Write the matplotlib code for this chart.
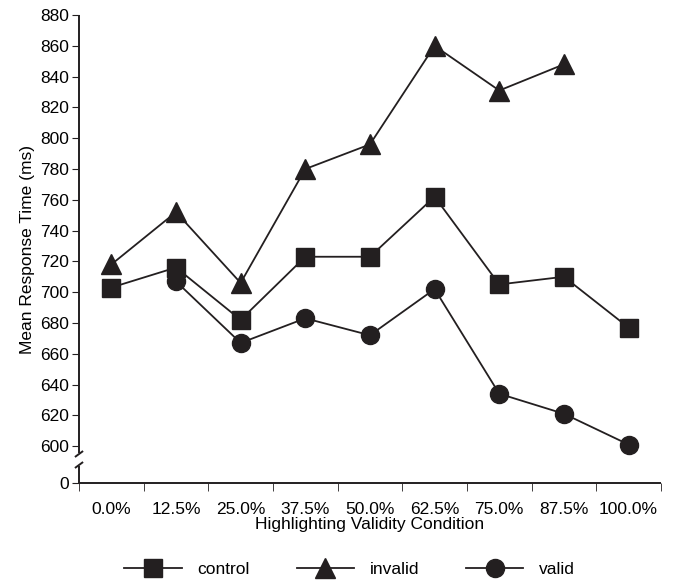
import matplotlib
matplotlib.use("Agg")
import matplotlib.pyplot as plt
import numpy as np

conditions = ["0.0%", "12.5%", "25.0%", "37.5%", "50.0%", "62.5%", "75.0%", "87.5%", "100.0%"]
control = [703, 716, 682, 723, 723, 762, 705, 710, 677]
invalid = [718, 752, 706, 780, 796, 860, 831, 848, np.nan]
valid = [np.nan, 707, 667, 683, 672, 702, 634, 621, 601]

ink = "#231f20"

# broken axis: everything below 600 squeezed into a short stub
def fwd(y):
    y = np.asarray(y, dtype=float)
    return np.where(y >= 600, y, 576 + y * 0.04)

def inv(v):
    v = np.asarray(v, dtype=float)
    return np.where(v >= 600, v, (v - 576) / 0.04)

plt.rcParams["font.family"] = ["Liberation Sans", "DejaVu Sans"]
plt.rcParams["font.size"] = 12.5

fig = plt.figure(figsize=(6.73, 5.8), dpi=100)
ax = fig.add_axes([0.1174, 0.1672, 0.8646, 0.8068])
ax.set_yscale("function", functions=(fwd, inv))

x = np.arange(len(conditions))
ax.plot(x, control, color=ink, lw=1.3, marker="s", ms=13, label="control")
ax.plot(x, invalid, color=ink, lw=1.3, marker="^", ms=14, label="invalid")
ax.plot(x, valid, color=ink, lw=1.3, marker="o", ms=13, label="valid")

ax.set_xlim(-0.5, len(conditions) - 0.5)
ax.set_ylim(0, 880)
ax.set_yticks([0] + list(range(600, 881, 20)))
ax.set_xticks(x)
ax.set_xticklabels(conditions)
ax.set_xticks(np.arange(len(conditions) + 1) - 0.5, minor=True)
ax.tick_params(axis="x", which="major", length=0, pad=13.5)
ax.tick_params(axis="x", which="minor", length=6, direction="out", color=ink)
ax.tick_params(axis="y", length=5, direction="out", color=ink, pad=2)
for s in ax.spines.values():
    s.set_visible(False)

# axis lines drawn by hand, with a gap for the break in the y axis
lk = dict(transform=ax.transAxes, color=ink, lw=1.4, clip_on=False,
          solid_capstyle="butt")
ax.plot([0, 1], [0, 0], **lk)
ax.plot([0, 0], [0, 0.036], **lk)
ax.plot([0, 0], [0.064, 1], **lk)
for yb in [0.0385, 0.062]:
    ax.plot([-0.007, 0.007], [yb - 0.0064, yb + 0.0064], **lk)

ax.set_xlabel("Highlighting Validity Condition", labelpad=0)
ax.set_ylabel("Mean Response Time (ms)", labelpad=4)

ax.legend(loc="upper center", bbox_to_anchor=(0.465, -0.135), ncol=3, frameon=False,
          handlelength=3.3, handletextpad=0.9, columnspacing=2.7)

fig.savefig("out.png", dpi=100)
